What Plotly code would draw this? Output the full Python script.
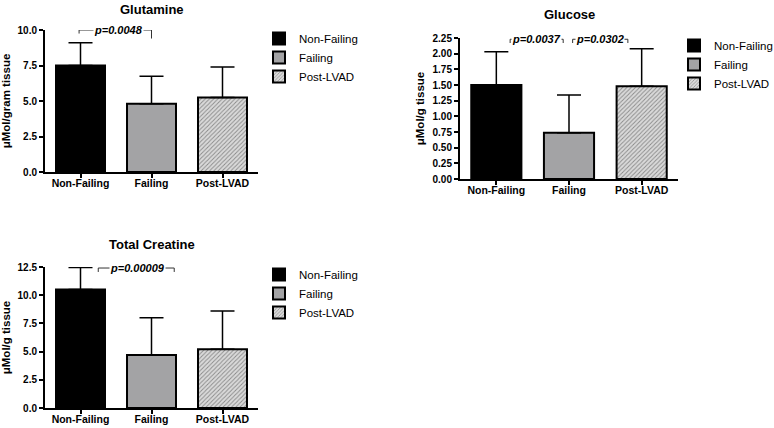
import plotly.graph_objects as go

categories = ["Non-Failing", "Failing", "Post-LVAD"]

glutamine_mean = [7.5, 4.8, 5.25]
glutamine_sd = [1.6, 1.95, 2.15]

glucose_mean = [1.50, 0.74, 1.48]
glucose_sd = [0.53, 0.60, 0.60]

creatine_mean = [10.5, 4.7, 5.2]
creatine_sd = [1.95, 3.3, 3.4]

panels = [
    dict(title="Glutamine", ytitle="μMol/gram tissue", mean=glutamine_mean, sd=glutamine_sd,
         yrange=[0, 10], dtick=2.5, fmt=".1f",
         xdom=[45/774, 258/774], ydom=[1-172/428, 1-30/428],
         legend=dict(x=259/774, y=1-24/428), tshift=11,
         brackets=[dict(x0=-0.02, x1=1.0, y=10.0, yl=9.75, yr=9.4, xt=0.53, text="p=0.0048")]),
    dict(title="Glucose", ytitle="μMol/g tissue", mean=glucose_mean, sd=glucose_sd,
         yrange=[0, 2.25], dtick=0.25, fmt=".2f",
         xdom=[460/774, 678/774], ydom=[1-179/428, 1-38/428],
         legend=dict(x=674/774, y=1-31/428), tshift=14,
         brackets=[dict(x0=0.19, x1=0.92, y=2.23, yl=2.17, yr=2.17, xt=0.55, text="p=0.0037"),
                   dict(x0=1.05, x1=1.81, y=2.23, yl=2.17, yr=2.17, xt=1.42, text="p=0.0302")]),
    dict(title="Total Creatine", ytitle="μMol/g tissue", mean=creatine_mean, sd=creatine_sd,
         yrange=[0, 12.5], dtick=2.5, fmt=".1f",
         xdom=[45/774, 258/774], ydom=[1-408/428, 1-267/428],
         legend=dict(x=259/774, y=1-260/428), tshift=13,
         brackets=[dict(x0=0.25, x1=1.32, y=12.41, yl=12.06, yr=12.06, xt=0.8, text="p=0.00009")]),
]

fills = ["#000000", "#a3a3a5", "#d6d6d6"]
FONT = "Liberation Sans, Arial, sans-serif"

fig = go.Figure()
shapes = []
annotations = []
layout = {}

for i, p in enumerate(panels):
    n = "" if i == 0 else str(i + 1)
    xa, ya = "x" + n, "y" + n
    lg = "legend" + n
    for j, cat in enumerate(categories):
        marker = dict(color=fills[j], line=dict(color="black", width=2))
        if j == 2:
            marker["pattern"] = dict(shape="/", fgcolor="#8a8a8a", bgcolor="#dadada",
                                     size=3, solidity=0.3, fillmode="replace")
        fig.add_trace(go.Bar(
            x=[cat], y=[p["mean"][j]], name=cat, width=0.69,
            marker=marker, xaxis=xa, yaxis=ya, legend=lg,
            error_y=dict(type="data", array=[p["sd"][j]], arrayminus=[0], symmetric=False,
                         color="black", thickness=1.5, width=12),
        ))
    layout["xaxis" + n] = dict(
        domain=p["xdom"], anchor=ya, range=[-0.5, 2.5], type="category", automargin=False,
        showline=True, linecolor="black", linewidth=2, ticks="outside", ticklen=4,
        tickwidth=1.5, tickcolor="black", showgrid=False, zeroline=False,
        ticklabelstandoff=-4,
        tickfont=dict(family=FONT, size=10.5, color="black", weight="bold"),
    )
    layout["yaxis" + n] = dict(
        domain=p["ydom"], anchor=xa, range=p["yrange"], dtick=p["dtick"], tick0=0,
        tickformat=p["fmt"], showline=True, linecolor="black", linewidth=2, automargin=False,
        ticks="outside", ticklen=4, tickwidth=2, tickcolor="black",
        showgrid=False, zeroline=False,
        tickfont=dict(family=FONT, size=10, color="black", weight="bold"),
        title=dict(text="<b>" + p["ytitle"] + "</b>", standoff=6,
                   font=dict(family=FONT, size=11.5, color="black")),
    )
    layout[lg] = dict(
        x=p["legend"]["x"], y=p["legend"]["y"], xanchor="left", yanchor="top",
        bgcolor="rgba(0,0,0,0)", font=dict(family=FONT, size=11.5, color="black"),
        tracegroupgap=0, itemwidth=30,
    )
    annotations.append(dict(
        text="<b>" + p["title"] + "</b>", xref=xa + " domain", yref=ya + " domain",
        x=0.5, y=1.0, yshift=p["tshift"], showarrow=False, xanchor="center", yanchor="bottom",
        font=dict(family=FONT, size=13, color="black"),
    ))
    for b in p["brackets"]:
        for (xs0, ys0, xs1, ys1) in [(b["x0"], b["yl"], b["x0"], b["y"]),
                                     (b["x0"], b["y"], b["x1"], b["y"]),
                                     (b["x1"], b["y"], b["x1"], b["yr"])]:
            shapes.append(dict(type="line", xref=xa, yref=ya, x0=xs0, y0=ys0, x1=xs1, y1=ys1,
                               line=dict(color="#333333", width=1)))
        annotations.append(dict(
            text="<b><i>" + b["text"] + "</i></b>", xref=xa, yref=ya, x=b["xt"], y=b["y"],
            showarrow=False, bgcolor="white", borderpad=0,
            font=dict(family=FONT, size=11, color="black"),
        ))

fig.update_layout(
    width=774, height=428, margin=dict(l=0, r=0, t=0, b=0, autoexpand=False),
    paper_bgcolor="white", plot_bgcolor="white", barmode="overlay",
    shapes=shapes, annotations=annotations, **layout,
)

fig.write_html("out.html", config={"displayModeBar": False},
               post_script="document.body.style.margin='0px';document.body.style.overflow='hidden';")
